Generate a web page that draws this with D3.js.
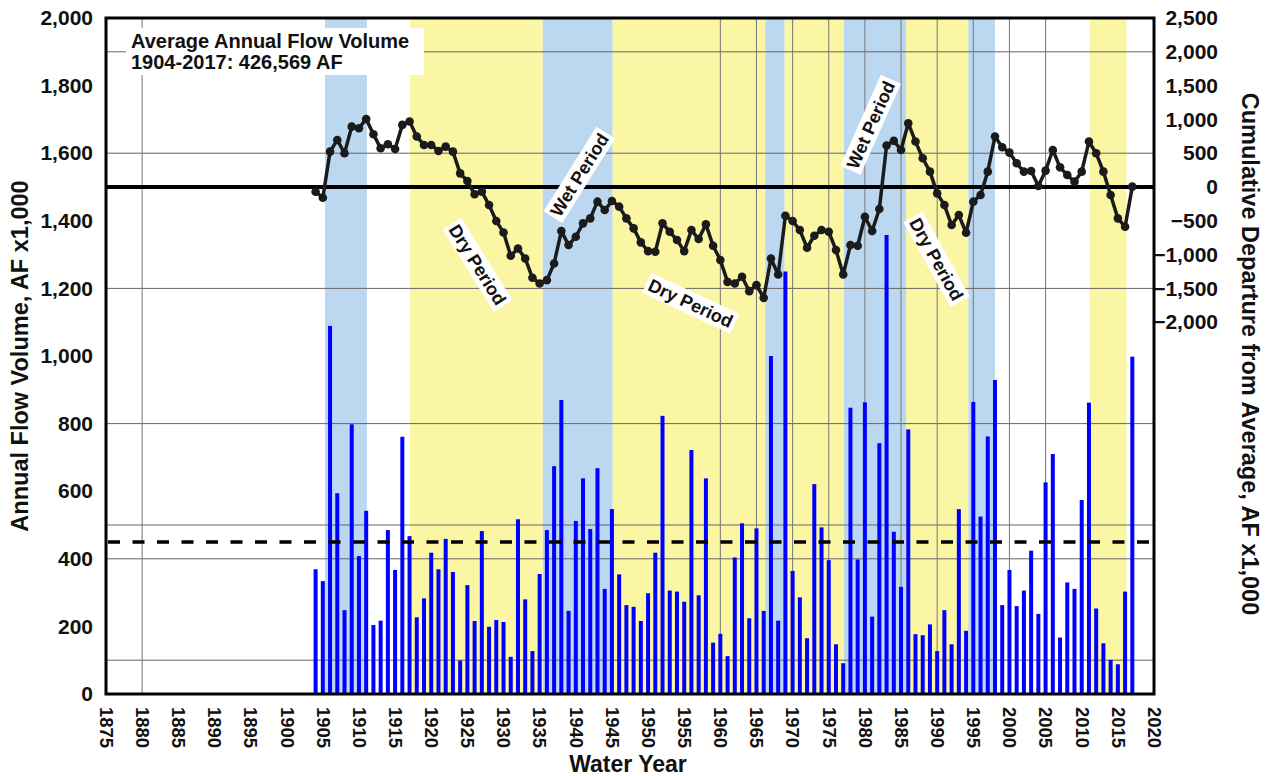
<!DOCTYPE html>
<html>
<head>
<meta charset="utf-8">
<script src="https://cdn.jsdelivr.net/npm/d3@7/dist/d3.min.js"></script>
<style>
  html, body { margin: 0; padding: 0; background: #ffffff; }
  svg { display: block; font-family: "Liberation Sans", Arial, sans-serif; }
</style>
</head>
<body>
<svg id="chart" width="1273" height="776"></svg>
<script>
// Water years shown as bars and cumulative-departure points
const years = d3.range(1904, 2018);

// Annual flow volume, AF x1,000
const annualFlow = [
  369, 334, 1089, 594, 248, 798, 408, 542, 204, 217,   // 1904-1913
  485, 367, 761, 467, 227, 283, 418, 369, 459, 361,    // 1914-1923
  99, 322, 216, 482, 199, 219, 213, 110, 517, 280,     // 1924-1933
  127, 355, 485, 674, 870, 246, 512, 638, 488, 668,    // 1934-1943
  311, 547, 354, 263, 258, 216, 298, 418, 823, 306,    // 1944-1953
  303, 273, 722, 292, 638, 152, 178, 112, 404, 505,    // 1954-1963
  224, 490, 246, 1000, 217, 1250, 364, 286, 165, 621,  // 1964-1973
  493, 396, 147, 91, 847, 398, 863, 229, 742, 1358,    // 1974-1983
  480, 317, 783, 177, 174, 206, 127, 248, 147, 547,    // 1984-1993
  187, 864, 525, 762, 929, 263, 367, 260, 306, 424,    // 1994-2003
  237, 626, 710, 167, 330, 311, 574, 862, 253, 150,    // 2004-2013
  101, 88, 303, 998                                    // 2014-2017
];

// Cumulative departure from average, AF x1,000
const cumulativeDeparture = [
  -70, -158, 523, 696, 499, 893, 869, 1007, 780, 573,          // 1904-1913
  632, 563, 919, 968, 746, 622, 622, 533, 597, 523,            // 1914-1923
  202, 89, -108, -69, -267, -504, -672, -1017, -909, -1057,    // 1924-1933
  -1343, -1427, -1378, -1131, -652, -859, -736, -538, -464, -217, // 1934-1943
  -341, -207, -291, -464, -612, -819, -948, -958, -538, -662,  // 1944-1953
  -785, -948, -637, -770, -553, -869, -1081, -1403, -1427, -1328, // 1954-1963
  -1541, -1452, -1640, -1057, -1294, -425, -504, -637, -899, -721, // 1964-1973
  -637, -662, -933, -1294, -859, -869, -440, -652, -326, 615,  // 1974-1983
  683, 548, 943, 672, 425, 227, -94, -267, -563, -415,         // 1984-1993
  -677, -217, -119, 227, 746, 588, 509, 351, 227, 237,         // 1994-2003
  15, 242, 548, 291, 178, 79, 227, 672, 499, 227,              // 2004-2013
  -119, -464, -588, 5                                          // 2014-2017
];

// Wet and dry period spans (water years)
const wetPeriods = [[1905.3, 1911.1], [1935.4, 1945.1], [1966.2, 1968.9], [1977.1, 1985.7], [1994.3, 1998.0]];
const dryPeriods = [[1917.05, 1935.4], [1945.1, 1966.2], [1968.9, 1977.1], [1985.7, 1994.3], [2011.1, 2016.2]];

// Period labels: [text, water year, cumulative departure, rotation]
const periodLabels = [
  ["Dry Period", 1926.4, -1150, 58],
  ["Wet Period", 1940.5, 180, -58],
  ["Dry Period", 1955.9, -1720, 25],
  ["Wet Period", 1980.8, 920, -66],
  ["Dry Period", 1989.9, -1070, 61]
];

// Axis ticks
const leftTicks = d3.range(0, 2001, 200);
const rightTicks = d3.range(-2000, 2501, 500);
const xTicks = d3.range(1875, 2021, 5);
const hGridLeft = [100, 400, 500, 800, 1200, 1600, 1900];
const vGridYears = [1880, 1960, 1965, 1970, 1975, 1980, 1985, 1990, 1995, 2000, 2005];

const averageFlowLine = 450;
const noteLines = ["Average Annual Flow Volume", "1904-2017: 426,569 AF"];

const svg = d3.select("#chart");
const plotLeft = 106, plotRight = 1154, plotTop = 18, plotBottom = 694;

const x = d3.scaleLinear().domain([1875, 2020]).range([plotLeft, plotRight]);
const yL = d3.scaleLinear().domain([0, 2000]).range([plotBottom, plotTop]);
const yR = d3.scaleLinear().domain([-7500, 2500]).range([plotBottom, plotTop]);

const plot = svg.append("g");

// period shading
plot.selectAll("rect.wet").data(wetPeriods).join("rect")
  .attr("class", "wet")
  .attr("x", d => x(d[0])).attr("width", d => x(d[1]) - x(d[0]))
  .attr("y", plotTop).attr("height", plotBottom - plotTop)
  .attr("fill", "#bcd8f1");
plot.selectAll("rect.dry").data(dryPeriods).join("rect")
  .attr("class", "dry")
  .attr("x", d => x(d[0])).attr("width", d => x(d[1]) - x(d[0]))
  .attr("y", plotTop).attr("height", plotBottom - plotTop)
  .attr("fill", "#faf6a4");

// grid
plot.selectAll("line.hg").data(hGridLeft).join("line")
  .attr("class", "hg")
  .attr("x1", plotLeft).attr("x2", plotRight)
  .attr("y1", d => yL(d)).attr("y2", d => yL(d))
  .attr("stroke", "#666").attr("stroke-width", 1);
plot.selectAll("line.vg").data(vGridYears).join("line")
  .attr("class", "vg")
  .attr("x1", d => x(d)).attr("x2", d => x(d))
  .attr("y1", plotTop).attr("y2", plotBottom)
  .attr("stroke", "#777").attr("stroke-width", 1);

// annual flow bars
plot.selectAll("rect.bar").data(years).join("rect")
  .attr("class", "bar")
  .attr("x", (d) => x(d) - 2)
  .attr("width", 4)
  .attr("y", (d, i) => yL(annualFlow[i]))
  .attr("height", (d, i) => plotBottom - yL(annualFlow[i]))
  .attr("fill", "#0000ff");

// average flow reference (dashed) and zero departure (solid)
plot.append("line")
  .attr("x1", plotLeft + 2).attr("x2", plotRight)
  .attr("y1", yL(averageFlowLine)).attr("y2", yL(averageFlowLine))
  .attr("stroke", "#000").attr("stroke-width", 3.5)
  .attr("stroke-dasharray", "12,12.5");
plot.append("line")
  .attr("x1", plotLeft).attr("x2", plotRight)
  .attr("y1", yR(0)).attr("y2", yR(0))
  .attr("stroke", "#000").attr("stroke-width", 4);

// cumulative departure line
const line = d3.line()
  .x((d, i) => x(years[i]))
  .y(d => yR(d));
plot.append("path")
  .datum(cumulativeDeparture)
  .attr("d", line)
  .attr("fill", "none")
  .attr("stroke", "#1b1b1b")
  .attr("stroke-width", 3.5)
  .attr("stroke-linejoin", "round");
plot.selectAll("circle.pt").data(cumulativeDeparture).join("circle")
  .attr("class", "pt")
  .attr("cx", (d, i) => x(years[i]))
  .attr("cy", d => yR(d))
  .attr("r", 4.3)
  .attr("fill", "#1b1b1b");

// period labels on white tags
const tags = plot.selectAll("g.tag").data(periodLabels).join("g")
  .attr("class", "tag")
  .attr("transform", d => `translate(${x(d[1])},${yR(d[2])}) rotate(${d[3]})`);
tags.append("rect").attr("fill", "#fff");
tags.append("text")
  .attr("text-anchor", "middle")
  .attr("dy", "0.35em")
  .attr("font-size", 18)
  .attr("font-weight", "bold")
  .attr("fill", "#111")
  .text(d => d[0]);
tags.each(function () {
  const t = d3.select(this).select("text").node();
  const w = t.getComputedTextLength();
  d3.select(this).select("rect")
    .attr("x", -w / 2 - 3).attr("width", w + 6)
    .attr("y", -11).attr("height", 22);
});

// note box
const note = plot.append("g");
note.append("rect")
  .attr("x", 126).attr("y", 28).attr("width", 298).attr("height", 47)
  .attr("fill", "#fff");
note.selectAll("text").data(noteLines).join("text")
  .attr("x", 131)
  .attr("y", (d, i) => 48 + i * 21)
  .attr("font-size", 20)
  .attr("font-weight", "bold")
  .attr("fill", "#111")
  .text(d => d);

// frame
svg.append("rect")
  .attr("x", plotLeft).attr("y", plotTop)
  .attr("width", plotRight - plotLeft).attr("height", plotBottom - plotTop)
  .attr("fill", "none").attr("stroke", "#000").attr("stroke-width", 3);

// axes
const axisL = svg.append("g").attr("transform", `translate(${plotLeft},0)`)
  .call(d3.axisLeft(yL).tickValues(leftTicks).tickSize(0).tickPadding(13).tickFormat(d3.format(",")));
const axisR = svg.append("g").attr("transform", `translate(${plotRight},0)`)
  .call(d3.axisRight(yR).tickValues(rightTicks).tickSize(0).tickFormat(d3.format(",")));
axisR.selectAll("text").attr("text-anchor", "end").attr("x", 64);
const axisB = svg.append("g").attr("transform", `translate(0,${plotBottom})`)
  .call(d3.axisBottom(x).tickValues(xTicks).tickSize(0).tickFormat(d3.format("d")));
axisB.selectAll("text")
  .attr("transform", "rotate(90)")
  .attr("x", 13).attr("y", 0).attr("dy", "0.36em")
  .attr("text-anchor", "start");

[axisL, axisR, axisB].forEach(a => {
  a.select(".domain").remove();
  a.selectAll("text")
    .attr("font-family", "'Liberation Sans', Arial, sans-serif")
    .attr("font-weight", "bold")
    .attr("fill", "#111");
});
axisL.selectAll("text").attr("font-size", 21);
axisR.selectAll("text").attr("font-size", 21);
axisB.selectAll("text").attr("font-size", 18.5);

// axis titles
svg.append("text")
  .attr("transform", `translate(20,${(plotTop + plotBottom) / 2}) rotate(-90)`)
  .attr("text-anchor", "middle").attr("dy", "0.35em")
  .attr("font-size", 23.5).attr("font-weight", "bold").attr("fill", "#111")
  .text("Annual Flow Volume, AF x1,000");
svg.append("text")
  .attr("transform", `translate(1250,354) rotate(90)`)
  .attr("text-anchor", "middle").attr("dy", "0.35em")
  .attr("font-size", 23.5).attr("font-weight", "bold").attr("fill", "#111")
  .text("Cumulative Departure from Average, AF x1,000");
svg.append("text")
  .attr("x", 628).attr("y", 772)
  .attr("text-anchor", "middle")
  .attr("font-size", 23).attr("font-weight", "bold").attr("fill", "#111")
  .text("Water Year");
</script>
</body>
</html>
